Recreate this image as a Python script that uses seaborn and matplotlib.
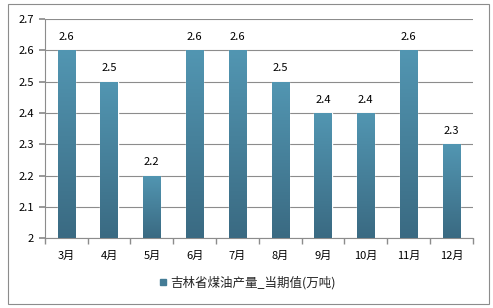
import numpy as np
import pandas as pd
import matplotlib
matplotlib.use("Agg")
import matplotlib.pyplot as plt
import seaborn as sns
from matplotlib.patches import Rectangle
from matplotlib.lines import Line2D
from matplotlib.colors import LinearSegmentedColormap

months = ["3月", "4月", "5月", "6月", "7月", "8月", "9月", "10月", "11月", "12月"]
values = [2.6, 2.5, 2.2, 2.6, 2.6, 2.5, 2.4, 2.4, 2.6, 2.3]
series_name = "吉林省煤油产量_当期值(万吨)"
yticks = [2.0, 2.1, 2.2, 2.3, 2.4, 2.5, 2.6, 2.7]
ytick_labels = ["2", "2.1", "2.2", "2.3", "2.4", "2.5", "2.6", "2.7"]

sns.set_theme(style="white")
plt.rcParams['font.family'] = ['Noto Sans CJK SC', 'DejaVu Sans']

df = pd.DataFrame({"month": months, "value": values})

fig = plt.figure(figsize=(4.93, 3.08), dpi=100)
ax = fig.add_axes([0.091, 0.227, 0.868, 0.711])

sns.barplot(data=df, x="month", y="value", color="#4a8aa6", width=0.4, ax=ax,
            saturation=1, zorder=3)

grad = np.linspace(0, 1, 256).reshape(-1, 1)
cmap = LinearSegmentedColormap.from_list("g", ["#3a6a82", "#5296b2"])
for p in ax.patches:
    x0, y0 = p.get_x(), p.get_y()
    w, h = p.get_width(), p.get_height()
    top = y0 + h
    im = ax.imshow(grad, extent=[x0, x0 + w, 2.0, top], origin="lower",
                   cmap=cmap, aspect="auto", zorder=4)
    im.set_clip_path(p)
    ax.text(x0 + w / 2, top + 0.027, f"{top:.1f}",
            ha="center", va="bottom", fontsize=8, color="#000000", zorder=5)
ax.set_aspect("auto")
ax.set_ylim(2.0, 2.7)
ax.set_xlim(-0.5, len(months) - 0.5)

ax.set_yticks(yticks)
ax.set_yticklabels(ytick_labels)
ax.yaxis.grid(True, color="#8c8c8c", linewidth=0.8, zorder=0)
ax.set_axisbelow(True)
for s in ["top", "right"]:
    ax.spines[s].set_visible(False)
for s in ["left", "bottom"]:
    ax.spines[s].set_color("#8c8c8c")
    ax.spines[s].set_linewidth(0.8)
ax.set_xlabel("")
ax.set_ylabel("")
ax.tick_params(axis="both", labelsize=8, colors="#000000", length=0)
ax.tick_params(axis="y", left=True, length=4, color="#8c8c8c", direction="out", pad=4)
ax.set_xticks(np.arange(-0.5, len(months), 1.0), minor=True)
ax.tick_params(axis="x", which="minor", bottom=True, length=4, color="#8c8c8c", direction="out")
ax.tick_params(axis="x", pad=9)

handle = Line2D([0], [0], marker="s", linestyle="", markersize=5,
                markerfacecolor="#447c96", markeredgecolor="#447c96")
fig.legend([handle], [series_name], loc="center", bbox_to_anchor=(0.5, 0.083),
           frameon=False, fontsize=9, handletextpad=0.2, handlelength=0.8)

border = Rectangle((8 / 493, 1 - 304 / 308), 481 / 493, 300 / 308,
                   transform=fig.transFigure, fill=False, edgecolor="#8c8c8c", linewidth=0.8)
fig.patches.append(border)

fig.savefig("out.png", dpi=100)
